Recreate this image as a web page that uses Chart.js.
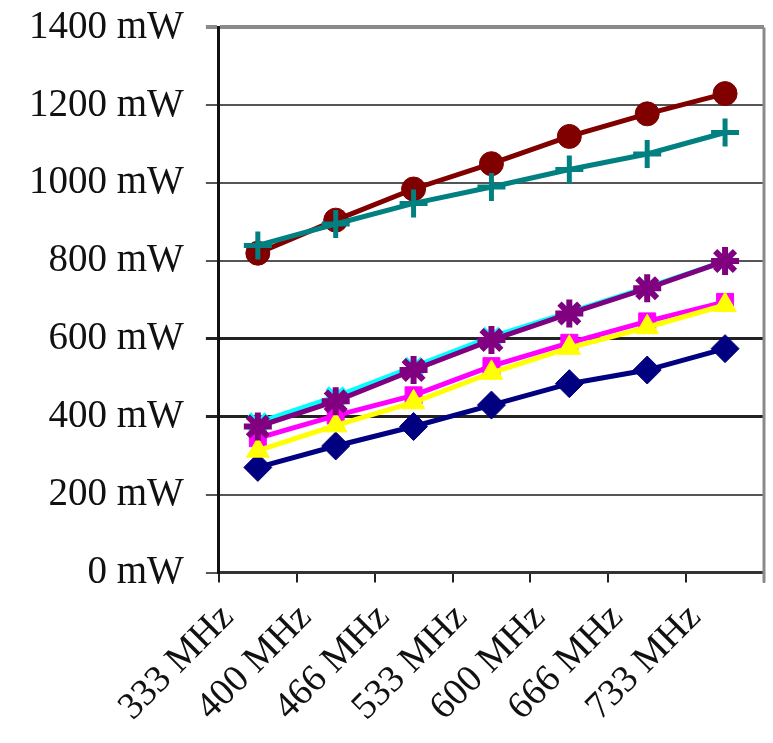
<!DOCTYPE html>
<html>
<head>
<meta charset="utf-8">
<script src="https://cdn.jsdelivr.net/npm/chart.js@4/dist/chart.umd.min.js"></script>
<style>
  html, body { margin: 0; padding: 0; background: #fff; overflow: hidden; }
  #wrap { width: 784px; height: 761px; margin-top: -18px; }
</style>
</head>
<body>
<div id="wrap"><canvas id="chart-power"></canvas></div>
<script>
var freqs = ['333 MHz', '400 MHz', '466 MHz', '533 MHz', '600 MHz', '666 MHz', '733 MHz'];

var navyDiamond = [270, 325, 375, 430, 485, 520, 575];
var pinkSquare = [345, 403, 455, 530, 590, 645, 695];
var yellowTri = [313, 378, 437, 513, 577, 630, 687];
var cyanX = [385, 452, 528, 605, 668, 732, 800];
var purpleStar = [375, 440, 520, 597, 665, 730, 800];
var redCircle = [820, 905, 985, 1050, 1120, 1178, 1230];
var tealPlus = [840, 895, 948, 990, 1035, 1075, 1130];

var yTicks = [0, 200, 400, 600, 800, 1000, 1200, 1400];

var serif = '"Liberation Serif", "Times New Roman", serif';

function line(data, color, style, radius, bw) {
  return {
    data: data,
    borderColor: color,
    backgroundColor: color,
    borderWidth: 5,
    pointStyle: style,
    pointRadius: radius,
    pointBorderColor: color,
    pointBackgroundColor: color,
    pointBorderWidth: bw,
    tension: 0,
    fill: false
  };
}

var sets = [
  line(navyDiamond, '#000080', 'rectRot', 14, 1),
  line(pinkSquare, '#ff00ff', 'rect', 12, 1),
  line(yellowTri, '#ffff00', 'triangle', 13, 1),
  line(cyanX, '#00ffff', 'crossRot', 12, 5),
  line(purpleStar, '#800080', 'star', 14, 6),
  line(redCircle, '#800000', 'circle', 12, 1),
  line(tealPlus, '#008080', 'cross', 14, 5)
];
// later series on top, like the source
sets.forEach(function (s, i) { s.order = sets.length - i; });

var frame = {
  id: 'frame',
  afterDraw: function (chart) {
    var a = chart.chartArea, c = chart.ctx;
    c.save();
    c.strokeStyle = '#8a8a8a';
    c.lineWidth = 3;
    c.beginPath();
    c.moveTo(a.right, a.top);
    c.lineTo(a.right, a.bottom + 10);
    c.stroke();
    c.restore();
  }
};

var config = {
  type: 'line',
  data: { labels: freqs, datasets: sets },
  plugins: [frame],
  options: {
    responsive: true,
    maintainAspectRatio: false,
    animation: false,
    layout: { padding: { left: 7, right: 0, top: 0, bottom: 0 } },
    plugins: { legend: { display: false }, tooltip: { enabled: false } },
    scales: {
      x: {
        offset: true,
        grid: { offset: true, drawOnChartArea: false, tickLength: 10, color: '#222', lineWidth: 2 },
        border: { color: '#333', width: 3 },
        ticks: {
          color: '#111',
          font: { family: serif, size: 38 },
          minRotation: 45,
          maxRotation: 45,
          padding: 13,
          labelOffset: -30,
          autoSkip: false
        }
      },
      y: {
        min: 0,
        max: 1400,
        afterBuildTicks: function (axis) {
          axis.ticks = yTicks.map(function (v) { return { value: v }; });
        },
        grid: {
          tickLength: 13,
          color: function (ctx) {
            var v = ctx.tick ? ctx.tick.value : 0;
            if (v === 400 || v === 600) return '#222';
            if (v === 1400) return '#8a8a8a';
            return '#555';
          },
          lineWidth: function (ctx) {
            var v = ctx.tick ? ctx.tick.value : 0;
            if (v === 1400) return 4;
            if (v === 400 || v === 600) return 3;
            return 2;
          }
        },
        border: { color: '#111', width: 3 },
        ticks: {
          color: '#111',
          font: { family: serif, size: 39 },
          padding: 22,
          callback: function (v) { return v + ' mW'; }
        }
      }
    }
  }
};

var ctx = document.getElementById('chart-power').getContext('2d');
window.myLine = new Chart(ctx, config);
</script>
</body>
</html>
